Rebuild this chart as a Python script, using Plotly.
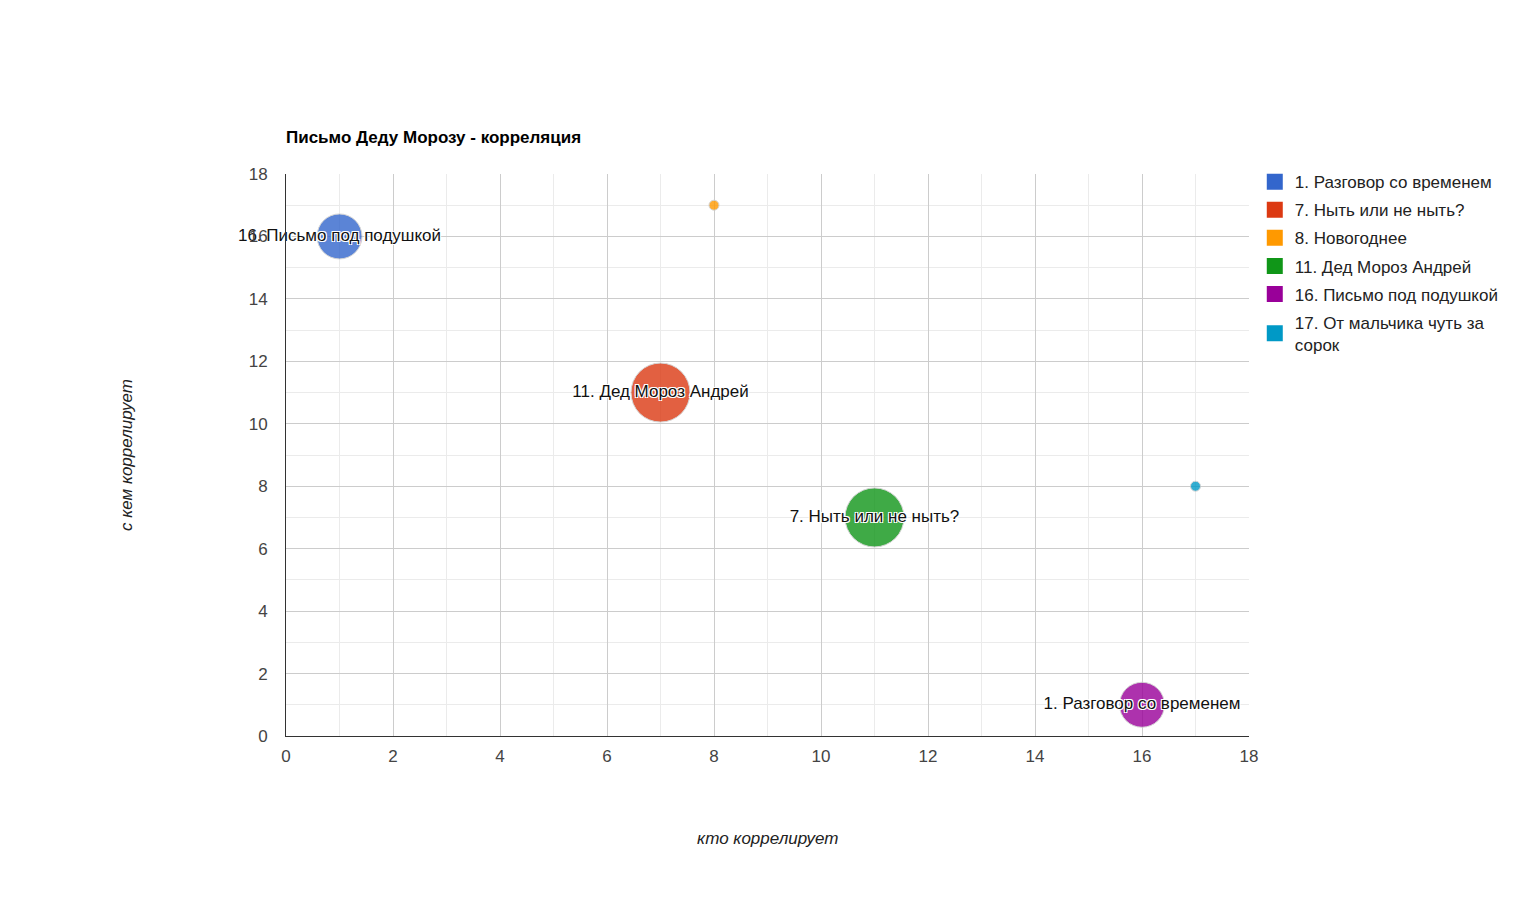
import plotly.graph_objects as go

# bubble data: who correlates (x) vs with whom (y)
series = ["1. Разговор со временем", "7. Ныть или не ныть?", "8. Новогоднее",
          "11. Дед Мороз Андрей", "16. Письмо под подушкой",
          "17. От мальчика чуть за сорок"]
x_vals = [1, 7, 8, 11, 16, 17]
y_vals = [16, 11, 17, 7, 1, 8]
size_vals = [6, 8, 1, 8, 6, 1]
bubble_labels = ["16. Письмо под подушкой", "11. Дед Мороз Андрей", "",
                 "7. Ныть или не ныть?", "1. Разговор со временем", ""]
legend_names = ["1. Разговор со временем", "7. Ныть или не ныть?", "8. Новогоднее",
                "11. Дед Мороз Андрей", "16. Письмо под подушкой",
                "17. От мальчика чуть за<br>сорок"]
colors = ["#3366cc", "#dc3912", "#ff9900", "#109618", "#990099", "#0099c6"]

FONT = "Liberation Sans, Arial, sans-serif"
FS = 17
halo = "1px 1px 0 #fff, -1px -1px 0 #fff, 1px -1px 0 #fff, -1px 1px 0 #fff"

smin, smax = min(size_vals), max(size_vals)
diam = [10 + (s - smin) / (smax - smin) * 49 for s in size_vals]

fig = go.Figure()

for i in range(len(series)):
    fig.add_trace(go.Scatter(
        x=[x_vals[i]], y=[y_vals[i]],
        mode="markers+text",
        text=[bubble_labels[i]],
        textposition="middle center",
        textfont=dict(family=FONT, size=FS, color="#111111", shadow=halo),
        marker=dict(size=diam[i], color=colors[i], opacity=0.8,
                    line=dict(color="#cccccc", width=1)),
        cliponaxis=False,
        showlegend=False,
        hoverinfo="skip",
    ))

# legend entries with square swatches
for i in range(len(series)):
    fig.add_trace(go.Scatter(
        x=[None], y=[None], mode="markers",
        name=legend_names[i],
        legendgroup=series[i],
        marker=dict(symbol="square", size=16, color=colors[i]),
    ))

axis_common = dict(
    range=[0, 18], dtick=2, showgrid=True, gridcolor="#cccccc", gridwidth=1,
    minor=dict(dtick=1, showgrid=True, gridcolor="#ebebeb"),
    zeroline=False, showline=True, linecolor="#333333", linewidth=1,
    tickfont=dict(family=FONT, size=FS, color="#444444"),
    fixedrange=True,
)

fig.update_layout(
    width=1535, height=911,
    margin=dict(l=278, r=294, t=166, b=183),
    paper_bgcolor="white", plot_bgcolor="white",
    font=dict(family=FONT, size=FS, color="#222222"),
    title=dict(text="<b>Письмо Деду Морозу - корреляция</b>",
               x=278 / 1535, xanchor="left", xref="container",
               y=1 - 129 / 911, yanchor="middle", yref="container",
               font=dict(family=FONT, size=FS, color="#000000")),
    xaxis=dict(axis_common, ticklabelstandoff=5),
    yaxis=dict(axis_common, ticklabelstandoff=14),
    legend=dict(x=1.006, xanchor="left", y=1.0176, yanchor="top",
                font=dict(family=FONT, size=FS, color="#222222"),
                tracegroupgap=3, traceorder="grouped",
                bgcolor="rgba(0,0,0,0)"),
    annotations=[
        dict(text="<i>кто коррелирует</i>", xref="paper", yref="paper",
             x=0.5, y=(736 - 838) / 562, xanchor="center", yanchor="middle",
             showarrow=False, font=dict(family=FONT, size=FS, color="#222222")),
        dict(text="<i>с кем коррелирует</i>", xref="paper", yref="paper",
             x=(126 - 286) / 963, y=(736 - 455) / 562, xanchor="center",
             yanchor="middle", textangle=-90, showarrow=False,
             font=dict(family=FONT, size=FS, color="#222222")),
    ],
)

fig.write_html("out.html")
